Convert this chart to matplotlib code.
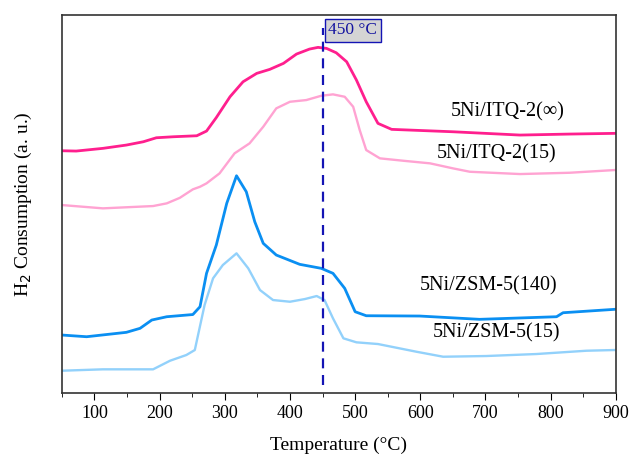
import numpy as np
import matplotlib
matplotlib.use("Agg")
import matplotlib.pyplot as plt
from matplotlib.ticker import MultipleLocator

plt.rcParams["font.family"] = ["Liberation Serif", "DejaVu Serif"]

# temperatures (°C) and H2 signal (a.u.)
t_itq_inf = [50, 72, 113, 149, 175, 195, 221, 257, 272, 287, 308, 328, 349, 369, 390,
             410, 430, 443, 456, 471, 487, 502, 517, 535, 556, 650, 753, 829, 898]
y_itq_inf = [242.3, 242, 244.7, 248, 251.3, 255.3, 256.3, 257.3, 262, 275.5, 296.3,
             311.3, 319.7, 323.7, 329.7, 339, 344, 345.7, 344.7, 340.3, 331.3, 313,
             291.3, 269.7, 263.7, 261.3, 258, 259, 259.7]

t_itq_15 = [50, 113, 190, 211, 231, 251, 262, 272, 292, 315, 338, 359, 379, 400, 425,
            448, 466, 484, 497, 507, 517, 538, 574, 615, 650, 676, 753, 829, 898]
y_itq_15 = [188, 184.7, 187, 189.7, 195.2, 203.7, 206.3, 209.7, 219.7, 239.7, 249.7,
            266.3, 284.7, 291.3, 293, 297.3, 298.7, 296.3, 286.3, 263, 243, 234.7,
            232.3, 229.7, 224.7, 221.3, 219, 220.3, 223]

t_zsm_140 = [50, 88, 149, 170, 188, 211, 251, 262, 272, 287, 303, 318, 333, 346, 359,
             379, 415, 448, 466, 484, 500, 517, 599, 691, 809, 819, 898]
y_zsm_140 = [58, 56.3, 60.7, 64.7, 73, 76.3, 78.5, 86.3, 119.7, 148, 189.7, 217.3,
             201.3, 171.3, 149.7, 138, 128.7, 124.7, 119.7, 104.7, 81.3, 77.3, 77,
             73.7, 76.3, 80.3, 83.7]

t_zsm_15 = [50, 113, 190, 216, 241, 254, 269, 282, 297, 318, 336, 354, 374, 400, 423,
            441, 453, 466, 482, 502, 535, 594, 635, 701, 778, 855, 898]
y_zsm_15 = [22.3, 23.7, 23.7, 32.3, 38, 43, 88, 114.7, 128, 139.7, 124.7, 103, 93,
            91.3, 94, 97, 93, 74.7, 54.7, 50.7, 49, 41.3, 36.3, 37, 39, 42.3, 43]

labels = ["5Ni/ITQ-2(\u221e)", "5Ni/ITQ-2(15)", "5Ni/ZSM-5(140)", "5Ni/ZSM-5(15)"]
colors = ["#ff1f8e", "#ffa3d2", "#0a8ff2", "#92d1fb"]
widths = [2.0, 1.7, 2.0, 1.7]
label_pos = [(734, 281), (717, 239), (704, 107), (717, 60)]

fig = plt.figure(figsize=(6.31, 4.57), dpi=100)
ax = fig.add_axes([0.098, 0.140, 0.878, 0.827])

series = [(t_itq_inf, y_itq_inf), (t_itq_15, y_itq_15),
          (t_zsm_140, y_zsm_140), (t_zsm_15, y_zsm_15)]
for (t, y), c, lw in zip(series, colors, widths):
    ax.plot(t, y, color=c, lw=lw, solid_joinstyle="round")

for lab, (x, y) in zip(labels, label_pos):
    ax.text(x, y, lab, ha="center", va="center", fontsize=14.5)

ax.axvline(450, ymin=0.02, ymax=0.965, color="#1414b4", lw=1.6, ls=(0, (4.5, 3)))
ax.text(459, 363, "450 \u00b0C", color="#1414a0", fontsize=12.5, ha="left", va="center",
        bbox=dict(boxstyle="square,pad=0.2", fc="#d4d4d4", ec="#1414b4", lw=1))

ax.set_xlim(50, 900)
ax.set_ylim(0, 378)
ax.xaxis.set_major_locator(MultipleLocator(100))
ax.xaxis.set_minor_locator(MultipleLocator(50))
ax.tick_params(axis="x", which="major", direction="out", length=5, labelsize=13)
ax.tick_params(axis="x", which="minor", direction="out", length=3)
ax.set_yticks([])
for s in ax.spines.values():
    s.set_color("#333333")
    s.set_linewidth(1.2)

ax.set_xlabel("Temperature (\u00b0C)", fontsize=14, labelpad=11)
ax.set_ylabel("H$_2$ Consumption (a. u.)", fontsize=14, labelpad=20)

fig.savefig("out.png", dpi=100)
